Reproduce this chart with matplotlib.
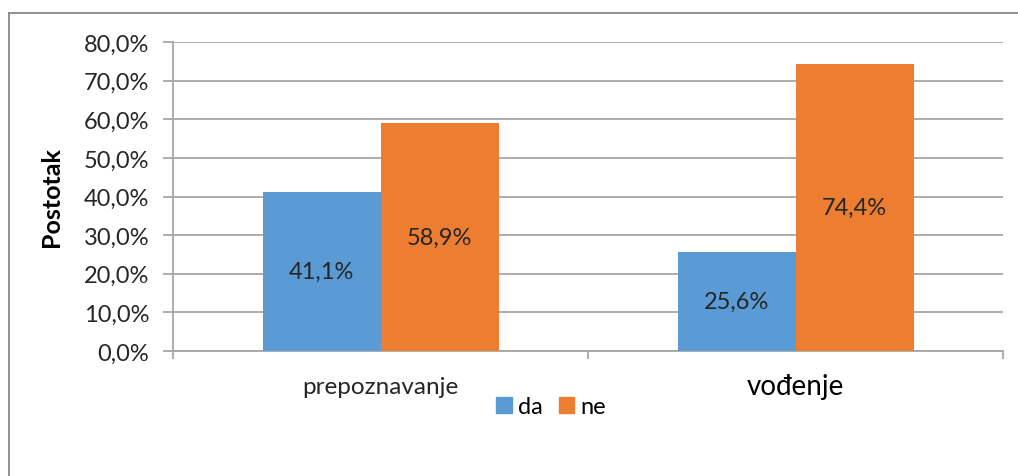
import matplotlib
matplotlib.use("Agg")
from matplotlib import pyplot as plt
from matplotlib.lines import Line2D
from matplotlib.patches import Patch
import numpy as np

categories = ["prepoznavanje", "vođenje"]
da = [41.1, 25.6]
ne = [58.9, 74.4]
series_names = ["da", "ne"]
yticks = [0, 10, 20, 30, 40, 50, 60, 70, 80]

plt.rcParams['font.family'] = ['Lato', 'DejaVu Sans']

blue = '#5B9BD5'
orange = '#ED7D31'
grid_col = '#A6A6A6'
txt = '#262626'

fig = plt.figure(figsize=(10.18, 4.77), dpi=100)
ax = fig.add_axes([173/1018, 1-352/477, (1003-173)/1018, (352-43)/477])

centers = np.arange(len(categories)) + 0.5
w = 118/415
ax.bar(centers - w/2, da, width=w, color=blue, zorder=3)
ax.bar(centers + w/2, ne, width=w, color=orange, zorder=3)

for c, v in zip(centers - w/2, da):
    ax.text(c, v/2, f"{v:.1f}%".replace('.', ','), ha='center', va='center',
            fontsize=17, color=txt, zorder=4)
for c, v in zip(centers + w/2, ne):
    ax.text(c, v/2, f"{v:.1f}%".replace('.', ','), ha='center', va='center',
            fontsize=17, color=txt, zorder=4)

ax.set_xlim(0, 2)
ax.set_ylim(0, 80)
ax.set_yticks(yticks)
ax.set_yticklabels([f"{t:.1f}%".replace('.', ',') for t in yticks], fontsize=17, color=txt)
ax.set_xticks([0, 1, 2])
ax.set_xticklabels([])
ax.tick_params(axis='y', length=7, color=grid_col, width=1.3, pad=10)
ax.tick_params(axis='x', length=6, color=grid_col, width=1.3, direction='out')
ax.grid(axis='y', color=grid_col, linewidth=1.3, zorder=0)
for s in ['top', 'right']:
    ax.spines[s].set_visible(False)
for s in ['left', 'bottom']:
    ax.spines[s].set_color(grid_col)
    ax.spines[s].set_linewidth(1.3)

ax.text(centers[0], -6.5, categories[0], ha='center', va='top', fontsize=17.5, color=txt)
ax.text(centers[1], -5.6, categories[1], ha='center', va='top', fontsize=20, color='black')

ax.set_ylabel("Postotak", fontsize=18, fontweight='bold', labelpad=15)

handles = [Patch(color=blue), Patch(color=orange)]
fig.legend(handles, series_names, loc='center', bbox_to_anchor=(551/1018, 1-408/477),
           ncol=2, frameon=False, fontsize=17, handlelength=0.65, handleheight=0.65,
           handletextpad=0.25, columnspacing=0.7, borderpad=0)

fig.add_artist(Line2D([9/1018, 1], [1-14/477, 1-14/477], color='#888888', linewidth=1.3))
fig.add_artist(Line2D([9/1018, 9/1018], [0, 1-14/477], color='#888888', linewidth=1.3))

fig.savefig("out.png", dpi=100)
